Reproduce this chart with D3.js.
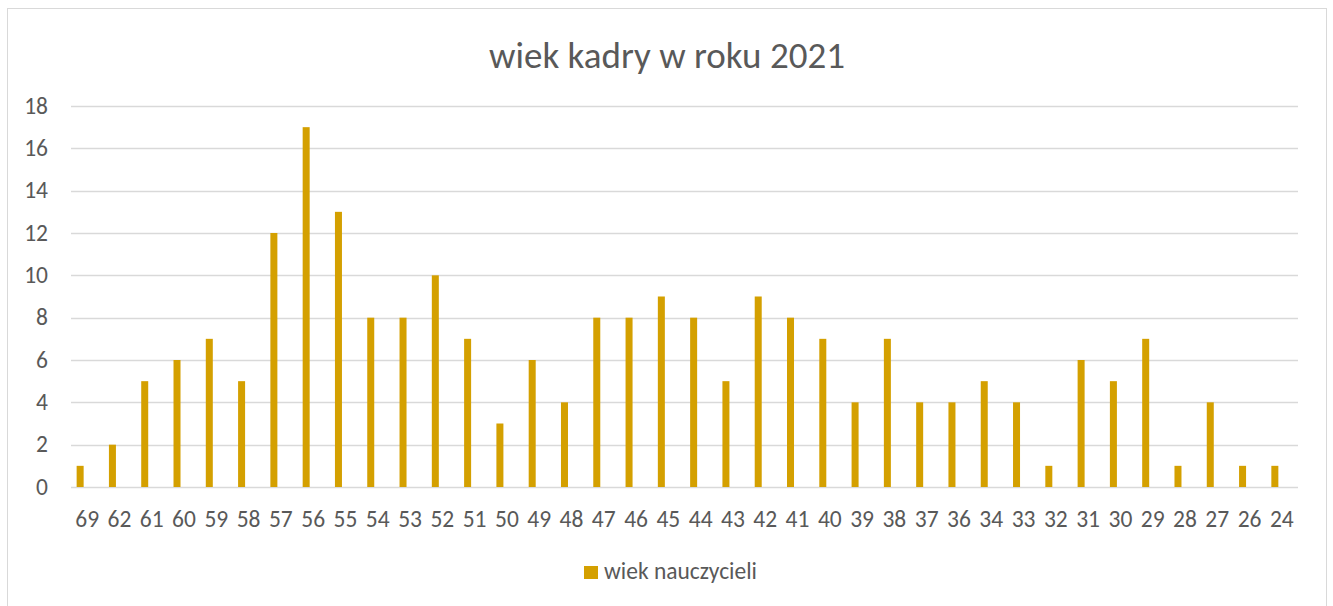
<!DOCTYPE html>
<html lang="pl">
<head>
<meta charset="UTF-8">
<title>wiek kadry w roku 2021</title>
<script src="https://d3js.org/d3.v7.min.js"></script>
<style>
    body { margin: 0; background: #fff; }
    svg text { font-family: Carlito, Calibri, "Liberation Sans", sans-serif; fill: #595959; }
</style>
</head>
<body>
<div id="chart"></div>
<script>
// dane z wykresu
const ages = ["69","62","61","60","59","58","57","56","55","54","53","52","51","50","49","48","47","46","45","44","43","42","41","40","39","38","37","36","34","33","32","31","30","29","28","27","26","24"];
const counts = [1,2,5,6,7,5,12,17,13,8,8,10,7,3,6,4,8,8,9,8,5,9,8,7,4,7,4,4,5,4,1,6,5,7,1,4,1,1];
const yTicks = [0,2,4,6,8,10,12,14,16,18];
const seriesName = "wiek nauczycieli";
const title = "wiek kadry w roku 2021";

const W = 1333, H = 606;
const plot = { left: 71, right: 1298, top: 106, bottom: 487 };
const barColor = "#d4a000";

const svg = d3.select("#chart").append("svg")
    .attr("width", W).attr("height", H);

// ramka wykresu
svg.append("rect")
    .attr("x", 7.5).attr("y", 8.5)
    .attr("width", 1319).attr("height", 610)
    .attr("fill", "#fff").attr("stroke", "#d9d9d9");

svg.append("text")
    .attr("x", 667).attr("y", 68)
    .attr("text-anchor", "middle")
    .style("font-size", "37px")
    .text(title);

const x = d3.scaleBand().domain(ages).range([plot.left, plot.right]);
const y = d3.scaleLinear().domain([0, 18]).range([plot.bottom, plot.top]);

// linie siatki
svg.append("g").selectAll("line")
    .data(yTicks).enter().append("line")
    .attr("x1", plot.left).attr("x2", plot.right)
    .attr("y1", d => Math.round(y(d)) + 0.5)
    .attr("y2", d => Math.round(y(d)) + 0.5)
    .attr("stroke", "#d9d9d9").attr("stroke-width", 1.3);

svg.append("g").selectAll("text")
    .data(yTicks).enter().append("text")
    .attr("x", 48).attr("y", d => y(d) + 7.5)
    .attr("text-anchor", "end")
    .style("font-size", "23.5px")
    .text(d => d);

// słupki (pierwsza z trzech pozycji w grupie, jak w Excelu)
const barW = x.bandwidth() * 0.217;
svg.append("g").selectAll("rect")
    .data(ages).enter().append("rect")
    .attr("x", (d) => x(d) + x.bandwidth() / 2 - 1.5 * barW)
    .attr("width", barW)
    .attr("y", (d, i) => y(counts[i]))
    .attr("height", (d, i) => y(0) - y(counts[i]))
    .attr("fill", barColor);

svg.append("g").selectAll("text")
    .data(ages).enter().append("text")
    .attr("x", d => x(d) + x.bandwidth() / 2)
    .attr("y", 527)
    .attr("text-anchor", "middle")
    .style("font-size", "23.5px")
    .text(d => d);

// legenda
svg.append("rect")
    .attr("x", 584).attr("y", 566)
    .attr("width", 14).attr("height", 13)
    .attr("fill", barColor);
svg.append("text")
    .attr("x", 604).attr("y", 579)
    .style("font-size", "23.5px")
    .text(seriesName);
</script>
</body>
</html>
